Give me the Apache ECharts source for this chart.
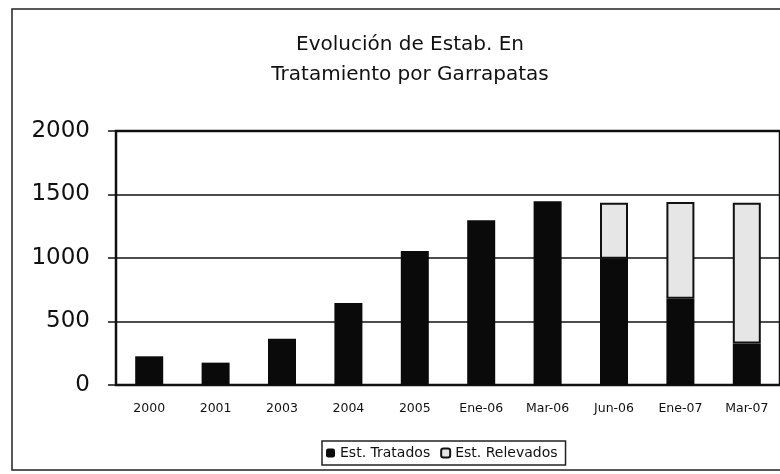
<!DOCTYPE html>
<html>
<head>
<meta charset="utf-8">
<script src="https://cdn.jsdelivr.net/npm/echarts@6/dist/echarts.min.js"></script>
<style>html,body{margin:0;padding:0;background:#fff}#c{width:780px;height:474px}</style>
</head>
<body>
<div id="c"></div>
<script>
const categories = ['2000','2001','2003','2004','2005','Ene-06','Mar-06','Jun-06','Ene-07','Mar-07'];
const tratados = [226,176,365,646,1055,1297,1446,995,680,326];
const relevados = [null,null,null,null,null,null,null,440,760,1110];
const yTicks = [0,500,1000,1500,2000];

const FONT = 'DejaVu Sans, Liberation Sans, Arial';
const chart = echarts.init(document.getElementById('c'), null, {renderer:'canvas'});
chart.setOption({
  animation:false,
  backgroundColor:'#fff',
  title:{
    text:'Evolución de Estab. En\nTratamiento por Garrapatas',
    left:405, textAlign:'center', top:25,
    textStyle:{fontFamily:FONT, fontSize:20, fontWeight:'normal', color:'#111', lineHeight:30}
  },
  graphic:[{
    type:'rect', shape:{x:12,y:9,width:790,height:461},
    style:{fill:'none', stroke:'#222', lineWidth:1.5}, z:-1
  }],
  legend:{
    data:['Est. Tratados','Est. Relevados'],
    left:322, top:441, itemWidth:9, itemHeight:9, itemGap:10,
    borderColor:'#222', borderWidth:1.5, padding:[5,8,5,4],
    textStyle:{fontFamily:FONT, fontSize:14, color:'#111'}
  },
  grid:{left:116, right:0, top:131, bottom:89, containLabel:false,
        show:true, borderColor:'#111', borderWidth:2.5},
  xAxis:{
    type:'category', data:categories,
    axisLine:{lineStyle:{color:'#111', width:2}},
    axisTick:{show:false},
    axisLabel:{fontFamily:FONT, fontSize:12.5, color:'#111', margin:17, interval:0}
  },
  yAxis:{
    type:'value', min:0, max:2000, interval:500,
    axisLine:{show:true, lineStyle:{color:'#111', width:2}},
    axisTick:{show:true, length:8, lineStyle:{color:'#111', width:1.5}},
    axisLabel:{fontFamily:FONT, fontSize:23, color:'#111', margin:26,
      formatter: v => yTicks.includes(v) ? String(v) : ''},
    splitLine:{lineStyle:{color:'#111', width:1.6}}
  },
  series:[
    {name:'Est. Tratados', type:'bar', stack:'a', data:tratados, barWidth:28,
     itemStyle:{color:'#0a0a0a'}},
    {name:'Est. Relevados', type:'bar', stack:'a', data:relevados, barWidth:28,
     itemStyle:{color:'#e6e6e6', borderColor:'#111', borderWidth:2}}
  ]
});
</script>
</body>
</html>
